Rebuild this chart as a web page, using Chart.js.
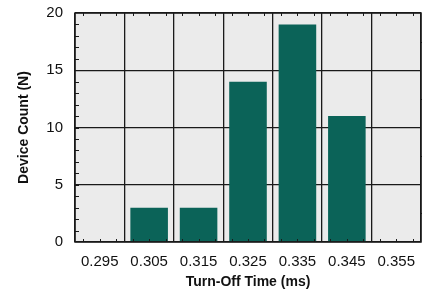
<!DOCTYPE html>
<html>
<head>
<meta charset="utf-8">
<script src="https://cdn.jsdelivr.net/npm/chart.js@4"></script>
<style>
  html, body { margin: 0; padding: 0; background: #fff; }
  #wrap { width: 422px; height: 295px; }
</style>
</head>
<body>
<div id="wrap"><canvas id="histChart" width="422" height="295"></canvas></div>
<script>
// Turn-off time histogram
const binLabels = ['0.295', '0.305', '0.315', '0.325', '0.335', '0.345', '0.355'];
const deviceCounts = [0, 3, 3, 14, 19, 11, 0];
const yTicks = [0, 5, 10, 15, 20];

const BAR_COLOR = '#0b6358';
const PLOT_BG = '#ebebeb';
const LINE = '#1a1a1a';
const FONT = "'Liberation Sans', Arial, Helvetica, sans-serif";

// plot background, frame and minor ticks
const framePlugin = {
  id: 'frame',
  beforeDraw(chart) {
    const { ctx, chartArea: a } = chart;
    ctx.save();
    ctx.fillStyle = PLOT_BG;
    ctx.fillRect(a.left, a.top, a.right - a.left, a.bottom - a.top);
    ctx.restore();
  },
  afterDraw(chart) {
    const { ctx, chartArea: a, scales } = chart;
    const y = scales.y;
    ctx.save();
    ctx.strokeStyle = LINE;
    ctx.lineWidth = 1;
    // left minor ticks (inside)
    for (let v = 1; v < 20; v++) {
      const py = Math.round(y.getPixelForValue(v)) + 0.5;
      ctx.beginPath(); ctx.moveTo(a.left, py); ctx.lineTo(a.left + 4, py); ctx.stroke();
    }
    // right ticks (outside) at half steps
    [2.5, 7.5, 12.5, 17.5].forEach(v => {
      const py = Math.round(y.getPixelForValue(v)) + 0.5;
      ctx.beginPath(); ctx.moveTo(a.right, py); ctx.lineTo(a.right + 3, py); ctx.stroke();
    });
    // top / bottom minor ticks
    const w = (a.right - a.left) / binLabels.length;
    for (let i = 0; i < binLabels.length; i++) {
      [1 / 6, 1 / 2, 5 / 6].forEach(f => {
        const px = Math.round(a.left + (i + f) * w) + 0.5;
        ctx.beginPath(); ctx.moveTo(px, a.top); ctx.lineTo(px, a.top + 3); ctx.stroke();
        ctx.beginPath(); ctx.moveTo(px, a.bottom); ctx.lineTo(px, a.bottom - 3); ctx.stroke();
      });
    }
    // frame
    ctx.lineWidth = 1.5;
    ctx.strokeRect(a.left, a.top, a.right - a.left, a.bottom - a.top);
    ctx.restore();
  }
};

new Chart(document.getElementById('histChart'), {
  type: 'bar',
  data: {
    labels: binLabels,
    datasets: [{
      data: deviceCounts,
      backgroundColor: BAR_COLOR,
      borderWidth: 0,
      barPercentage: 0.76,
      categoryPercentage: 1.0,
    }],
  },
  options: {
    responsive: false,
    animation: false,
    layout: { padding: { top: 13, right: 1, left: 0, bottom: 0 } },
    plugins: { legend: { display: false }, tooltip: { enabled: false } },
    scales: {
      x: {
        grid: { offset: true, color: LINE, lineWidth: 1.3, drawTicks: false },
        border: { display: false },
        ticks: { color: '#111', font: { family: FONT, size: 15 }, padding: 11, maxRotation: 0 },
        title: {
          display: true, text: 'Turn-Off Time (ms)', color: '#111',
          font: { family: FONT, size: 14, weight: 'bold' }, padding: { top: 3, bottom: 4 },
        },
        afterFit(s) { s.height = 53; s.paddingLeft = 0; s.paddingRight = 0; },
      },
      y: {
        min: 0, max: 20,
        afterBuildTicks(s) { s.ticks = yTicks.map(v => ({ value: v })); },
        grid: { color: LINE, lineWidth: 1.3, drawTicks: false },
        border: { display: false },
        ticks: { color: '#111', font: { family: FONT, size: 15 }, padding: 12 },
        title: {
          display: true, text: 'Device Count (N)', color: '#111',
          font: { family: FONT, size: 14, weight: 'bold' }, padding: { top: 16, bottom: 6 },
        },
        afterFit(s) { s.width = 75; s.paddingTop = 0; s.paddingBottom = 0; },
      },
    },
  },
  plugins: [framePlugin],
});
</script>
</body>
</html>
